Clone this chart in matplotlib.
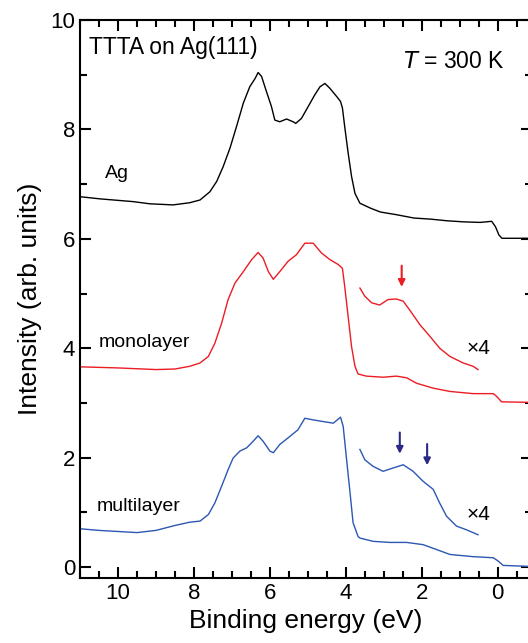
import numpy as np
import matplotlib.pyplot as plt
from matplotlib.ticker import MultipleLocator

plt.rcParams['font.family'] = ['Liberation Sans', 'DejaVu Sans']

# Ag (clean substrate)
ag_e = [11.0, 10.47, 9.6, 9.16, 8.55, 8.11, 7.84, 7.58, 7.40, 7.23, 7.05, 6.88, 6.70, 6.53,
        6.39, 6.31, 6.22, 6.09, 5.96, 5.87, 5.74, 5.56, 5.39, 5.32, 5.17, 4.99, 4.82, 4.68,
        4.55, 4.42, 4.24, 4.14, 4.09, 4.03, 3.94, 3.85, 3.76, 3.63, 3.35, 3.09, 2.66, 2.21,
        1.77, 1.34, 0.9, 0.46, 0.16, 0.06, -0.03, -0.11, -0.9]
ag_i = [6.77, 6.73, 6.68, 6.64, 6.62, 6.66, 6.71, 6.86, 7.05, 7.32, 7.66, 8.05, 8.48, 8.78,
        8.93, 9.04, 8.97, 8.69, 8.42, 8.17, 8.14, 8.19, 8.14, 8.11, 8.20, 8.42, 8.63, 8.78,
        8.84, 8.75, 8.60, 8.51, 8.39, 8.05, 7.57, 7.14, 6.83, 6.65, 6.56, 6.49, 6.44, 6.38,
        6.36, 6.33, 6.31, 6.30, 6.32, 6.22, 6.07, 6.01, 6.01]

# monolayer
mono_e = [11.0, 10.0, 9.0, 8.5, 8.11, 7.84, 7.62, 7.45, 7.27, 7.10, 6.92, 6.70, 6.48, 6.31,
          6.18, 6.04, 5.91, 5.74, 5.52, 5.30, 5.08, 4.86, 4.64, 4.42, 4.20, 4.09, 4.03,
          3.94, 3.85, 3.76, 3.68, 3.46, 3.02, 2.67, 2.40, 2.14, 1.70, 1.26, 0.65, 0.12,
          0.03, -0.10, -0.9]
mono_i = [3.66, 3.64, 3.61, 3.62, 3.67, 3.73, 3.85, 4.09, 4.46, 4.89, 5.19, 5.40, 5.62, 5.75,
          5.65, 5.40, 5.26, 5.40, 5.59, 5.71, 5.92, 5.92, 5.74, 5.62, 5.53, 5.46, 5.13,
          4.58, 4.03, 3.67, 3.53, 3.49, 3.47, 3.49, 3.46, 3.36, 3.27, 3.21, 3.17, 3.17,
          3.12, 3.02, 3.01]
mono4_e = [3.63, 3.50, 3.32, 3.11, 2.89, 2.67, 2.49, 2.32, 2.05, 1.79, 1.53, 1.26, 0.91, 0.65, 0.52]
mono4_i = [5.10, 4.95, 4.83, 4.79, 4.89, 4.90, 4.86, 4.70, 4.43, 4.22, 4.00, 3.85, 3.73, 3.67, 3.61]

# multilayer
multi_e = [11.0, 10.5, 10.0, 9.5, 9.0, 8.5, 8.11, 7.84, 7.62, 7.45, 7.27, 7.10, 6.97, 6.79,
           6.61, 6.44, 6.31, 6.18, 6.00, 5.91, 5.74, 5.47, 5.26, 5.08, 4.86, 4.60, 4.33,
           4.14, 4.07, 3.98, 3.89, 3.81, 3.68, 3.63, 3.28, 2.84, 2.40, 1.97, 1.61, 1.26,
           0.65, 0.12, -0.01, -0.14, -0.9]
multi_i = [0.70, 0.67, 0.65, 0.63, 0.67, 0.76, 0.82, 0.84, 0.96, 1.17, 1.48, 1.78, 1.99, 2.12,
           2.18, 2.30, 2.40, 2.30, 2.12, 2.09, 2.24, 2.39, 2.51, 2.72, 2.69, 2.66, 2.63,
           2.74, 2.57, 1.96, 1.36, 0.81, 0.56, 0.53, 0.47, 0.45, 0.45, 0.41, 0.32, 0.23,
           0.19, 0.17, 0.11, 0.03, 0.01]
multi4_e = [3.63, 3.50, 3.28, 3.02, 2.76, 2.49, 2.23, 1.97, 1.70, 1.53, 1.35, 1.09, 0.82, 0.52]
multi4_i = [2.15, 1.96, 1.84, 1.75, 1.81, 1.87, 1.75, 1.57, 1.42, 1.17, 0.93, 0.75, 0.68, 0.59]

red = '#ec1c24'
blue = '#2c57b2'
navy = '#2b2a86'

fig = plt.figure(figsize=(5.28, 6.43), dpi=100)
ax = fig.add_axes([0.1515, 0.1011, 0.856, 0.8678])

ax.plot(ag_e, ag_i, color='black', lw=1.0)
ax.plot(mono_e, mono_i, color=red, lw=1.0)
ax.plot(mono4_e, mono4_i, color=red, lw=1.0)
ax.plot(multi_e, multi_i, color=blue, lw=1.0)
ax.plot(multi4_e, multi4_i, color=blue, lw=1.0)

# arrows
arr = dict(arrowstyle='-|>', lw=1.5, mutation_scale=10)
ax.annotate('', xy=(2.53, 5.07), xytext=(2.53, 5.56), arrowprops=dict(color=red, **arr))
ax.annotate('', xy=(2.58, 2.02), xytext=(2.58, 2.51), arrowprops=dict(color=navy, **arr))
ax.annotate('', xy=(1.86, 1.81), xytext=(1.86, 2.30), arrowprops=dict(color=navy, **arr))

ax.text(10.75, 9.5, 'TTTA on Ag(111)', fontsize=16.5, va='center', ha='left')
ax.text(-0.18, 9.25, '$\\it{T}$ = 300 K', fontsize=16.5, va='center', ha='right')
ax.text(10.35, 7.2, 'Ag', fontsize=14, va='center', ha='left')
ax.text(10.5, 4.1, 'monolayer', fontsize=14, va='center', ha='left')
ax.text(10.55, 1.1, 'multilayer', fontsize=14, va='center', ha='left')
ax.text(0.82, 3.99, '×4', fontsize=15, va='center', ha='left')
ax.text(0.82, 0.96, '×4', fontsize=15, va='center', ha='left')

ax.set_xlim(11, -0.9)
ax.set_ylim(-0.2, 10)
ax.xaxis.set_major_locator(MultipleLocator(2))
ax.xaxis.set_minor_locator(MultipleLocator(0.5))
ax.yaxis.set_major_locator(MultipleLocator(2))
ax.yaxis.set_minor_locator(MultipleLocator(1))
ax.tick_params(which='both', direction='in', top=True, right=True, width=1.5, labelsize=16)
ax.tick_params(which='major', length=8)
ax.tick_params(which='minor', length=5)
for s in ax.spines.values():
    s.set_linewidth(1.5)

ax.set_xlabel('Binding energy (eV)', fontsize=19, labelpad=4)
ax.set_ylabel('Intensity (arb. units)', fontsize=19, labelpad=6)

fig.savefig('out.png', dpi=100)
